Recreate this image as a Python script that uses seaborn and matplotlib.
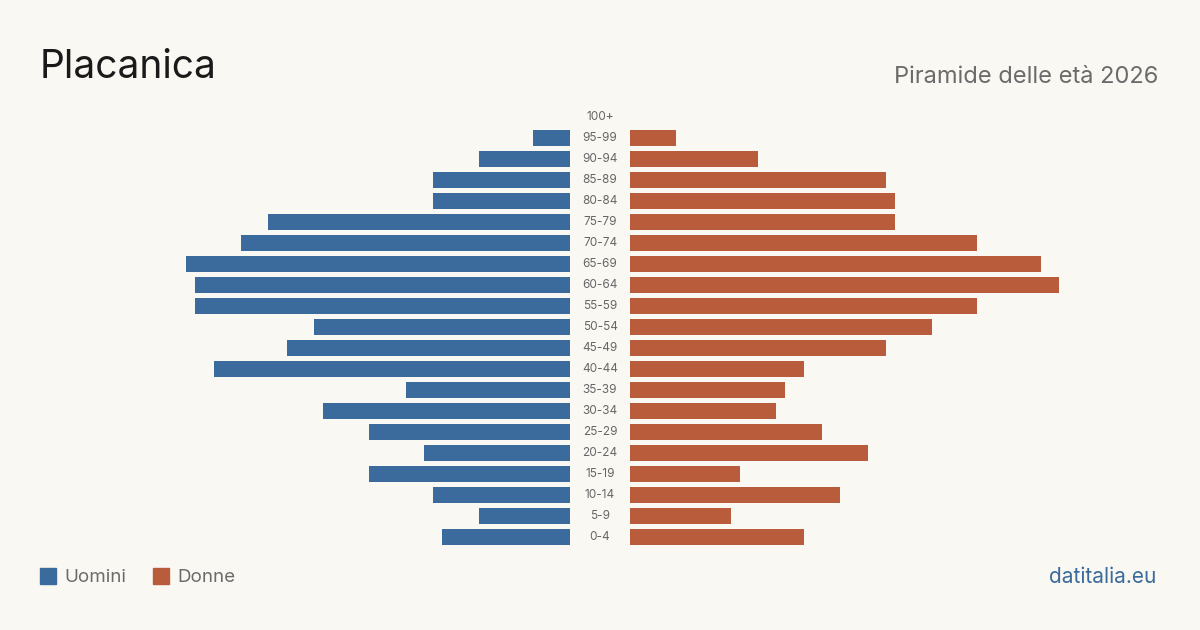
import matplotlib
matplotlib.use("Agg")
import matplotlib.pyplot as plt
import seaborn as sns
import pandas as pd
from matplotlib.patches import Rectangle

age_groups = ["0-4", "5-9", "10-14", "15-19", "20-24", "25-29", "30-34", "35-39",
              "40-44", "45-49", "50-54", "55-59", "60-64", "65-69", "70-74", "75-79",
              "80-84", "85-89", "90-94", "95-99", "100+"]
uomini = [14, 10, 15, 22, 16, 22, 27, 18, 39, 31, 28, 41, 41, 42, 36, 33, 15, 15, 10, 4, 0]
donne = [19, 11, 23, 12, 26, 21, 16, 17, 19, 28, 33, 38, 47, 45, 38, 29, 29, 28, 14, 5, 0]

BG = "#f9f8f3"
BLUE = "#3a6b9c"
ORANGE = "#b95c3c"

sns.set_theme(style="white")
plt.rcParams["font.family"] = ["Inter", "DejaVu Sans"]

order = age_groups[::-1]
df = pd.DataFrame({"age": age_groups, "Uomini": uomini, "Donne": donne})

fig = plt.figure(figsize=(12, 6.3), dpi=100)
fig.patch.set_facecolor(BG)

W, H = 1200, 630
top_px, bot_px = 106.5, 547.5
ax_b = (H - bot_px) / H
ax_h = (bot_px - top_px) / H
xmax = 58.0
axL = fig.add_axes([40 / W, ax_b, 530 / W, ax_h])
axR = fig.add_axes([630 / W, ax_b, 530 / W, ax_h])

sns.barplot(data=df, y="age", x="Uomini", order=order, color=BLUE, ax=axL,
            width=0.8, saturation=1, orient="h", linewidth=0, edgecolor="none")
sns.barplot(data=df, y="age", x="Donne", order=order, color=ORANGE, ax=axR,
            width=0.8, saturation=1, orient="h", linewidth=0, edgecolor="none")

axL.set_xlim(xmax, 0)
axR.set_xlim(0, xmax)
for ax in (axL, axR):
    ax.set_facecolor(BG)
    ax.patch.set_alpha(0)
    ax.set_ylim(len(order) - 0.5, -0.5)
    ax.set_xlabel("")
    ax.set_ylabel("")
    ax.set_xticks([])
    ax.set_yticks([])
    for s in ax.spines.values():
        s.set_visible(False)

# age labels in the center
for i, lab in enumerate(order):
    y_px = top_px + 10.5 + 21 * i
    fig.text(600 / W, 1 - y_px / H, lab, ha="center", va="center",
             fontsize=8.5, color="#666666")

fig.text(40 / W, 1 - 68 / H, "Placanica", ha="left", va="center",
         fontsize=28, color="#1a1a1a")
fig.text(1158 / W, 1 - 77 / H, "Piramide delle età 2026", ha="right", va="center",
         fontsize=17, color="#6b6b6b")

# legend
fig.patches.append(Rectangle((40 / W, 1 - 584 / H), 16 / W, 16 / H,
                             transform=fig.transFigure, color=BLUE))
fig.text(64 / W, 1 - 577 / H, "Uomini", ha="left", va="center", fontsize=13.5, color="#6b6b6b")
fig.patches.append(Rectangle((153 / W, 1 - 584 / H), 16 / W, 16 / H,
                             transform=fig.transFigure, color=ORANGE))
fig.text(177 / W, 1 - 577 / H, "Donne", ha="left", va="center", fontsize=13.5, color="#6b6b6b")

fig.text(1156 / W, 1 - 577 / H, "datitalia.eu", ha="right", va="center",
         fontsize=15, color=BLUE)

fig.savefig("out.png", dpi=100, facecolor=BG)
